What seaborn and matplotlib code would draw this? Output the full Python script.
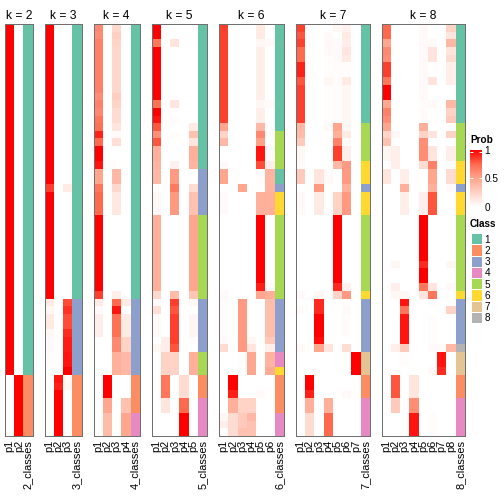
import numpy as np
import pandas as pd
import matplotlib
matplotlib.use("Agg")
import matplotlib.pyplot as plt
import seaborn as sns
from matplotlib.colors import LinearSegmentedColormap, ListedColormap

plt.rcParams['font.family'] = ['Liberation Sans', 'DejaVu Sans']

# membership probabilities, read off the picture as row blocks:
# (number of rows, [p1 .. pk], class)
k2_blocks = [
    (46, [1, 0], 1),
    (8, [0, 1], 2),
]
k3_blocks = [
    (21, [1, 0, 0], 1), (1, [0.85, 0, 0.12], 1), (14, [1, 0, 0], 1),
    (1, [0.12, 0, 0.82], 3), (1, [0.05, 0, 0.88], 3), (2, [0.12, 0, 0.82], 3),
    (1, [0.05, 0, 0.9], 3), (2, [0.03, 0, 0.93], 3), (2, [0.02, 0, 0.95], 3),
    (1, [0, 0, 1], 3),
    (1, [0, 0.95, 0.03], 2), (1, [0, 0.92, 0.05], 2), (6, [0, 1, 0], 2),
]
k4_blocks = [
    (1, [0.62, 0, 0.22, 0], 1), (1, [0.6, 0, 0.26, 0], 1), (1, [0.65, 0, 0.24, 0], 1),
    (6, [0.65, 0, 0.22, 0], 1), (1, [0.6, 0, 0.27, 0], 1), (1, [0.65, 0, 0.24, 0], 1),
    (1, [0.62, 0, 0.2, 0], 1), (1, [0.7, 0, 0.2, 0], 1), (1, [0.72, 0, 0.15, 0], 1),
    (1, [0.92, 0, 0.03, 0], 1), (1, [0.75, 0, 0.18, 0], 1), (2, [1, 0, 0, 0], 1),
    (1, [0.95, 0, 0.01, 0], 1), (2, [0.5, 0, 0.4, 0], 1), (1, [0.7, 0, 0.22, 0], 1),
    (3, [0.75, 0, 0.13, 0], 1), (10, [1, 0, 0, 0], 1), (1, [0.85, 0, 0.1, 0], 1),
    (1, [0.12, 0, 0.75, 0.12], 3), (1, [0.03, 0, 0.95, 0], 3), (3, [0.1, 0, 0.72, 0.12], 3),
    (2, [0, 0, 0.62, 0.25], 3), (3, [0, 0, 0.45, 0.4], 3),
    (3, [0, 1, 0, 0], 2), (2, [0, 0.5, 0, 0.35], 2),
    (3, [0, 0.38, 0, 0.5], 4),
]
k5_blocks = [
    (2, [1, 0, 0, 0, 0], 1), (1, [0.7, 0, 0.15, 0, 0], 1), (7, [1, 0, 0, 0, 0], 1),
    (1, [0.72, 0, 0.15, 0, 0], 1), (1, [1, 0, 0, 0, 0], 1), (1, [0.95, 0, 0.02, 0, 0], 1),
    (1, [0.8, 0, 0, 0, 0.12], 1), (1, [0.6, 0, 0.02, 0, 0.35], 1), (1, [0.8, 0, 0, 0, 0.15], 1),
    (2, [0.45, 0, 0, 0, 0.45], 1), (1, [0.42, 0, 0.08, 0, 0.42], 1),
    (2, [0.4, 0, 0.55, 0, 0], 3), (1, [0.02, 0, 0.68, 0, 0.2], 3), (3, [0.05, 0, 0.55, 0, 0.35], 3),
    (10, [0.45, 0, 0, 0, 0.5], 5), (1, [0.22, 0, 0.38, 0, 0.33], 5),
    (1, [0.03, 0, 0.85, 0, 0.05], 3), (1, [0.18, 0, 0.8, 0, 0], 3), (3, [0.03, 0, 0.85, 0, 0.06], 3),
    (1, [0, 0.1, 0.85, 0, 0.02], 3), (1, [0.05, 0.1, 0.8, 0, 0], 3),
    (3, [0, 0.25, 0.25, 0, 0.45], 5),
    (3, [0, 0.7, 0, 0.2, 0], 2),
    (2, [0, 0.15, 0, 0.75, 0], 4), (3, [0, 0, 0, 1, 0], 4),
]
k6_blocks = [
    (2, [0.85, 0, 0, 0, 0.12, 0], 1), (1, [0.85, 0, 0, 0, 0.05, 0.03], 1),
    (7, [0.85, 0, 0, 0, 0.1, 0], 1), (1, [0.85, 0, 0, 0, 0.05, 0.03], 1),
    (2, [0.85, 0, 0, 0, 0.1, 0], 1), (1, [0.5, 0, 0, 0, 0.4, 0], 1),
    (1, [0.25, 0, 0, 0, 0.62, 0.02], 5), (1, [0.4, 0, 0, 0, 0.52, 0], 5),
    (2, [0, 0, 0, 0, 0.95, 0.03], 5), (1, [0.03, 0, 0, 0, 0.82, 0.1], 5),
    (2, [0.5, 0, 0, 0, 0.02, 0.42], 1),
    (1, [0, 0, 0.5, 0, 0, 0.42], 3),
    (3, [0.03, 0, 0, 0, 0.45, 0.45], 6),
    (9, [0, 0, 0, 0, 1, 0], 5), (1, [0, 0, 0, 0, 0.93, 0.03], 5), (1, [0.03, 0, 0, 0, 0.5, 0.45], 5),
    (5, [0.02, 0, 0.55, 0, 0, 0.37], 3), (1, [0.03, 0, 0.55, 0.05, 0, 0.3], 3),
    (1, [0.2, 0, 0.55, 0.15, 0, 0.1], 3),
    (2, [0, 0, 0.02, 0.5, 0, 0.42], 4),
    (1, [0, 0, 0, 0.5, 0, 0.48], 6),
    (2, [0, 1, 0, 0, 0, 0], 2), (1, [0, 0.92, 0, 0, 0.03, 0], 2), (2, [0, 0.45, 0.25, 0.25, 0, 0], 2),
    (1, [0.05, 0.2, 0.3, 0.4, 0, 0], 4), (1, [0.1, 0.2, 0.3, 0.35, 0, 0], 4),
    (1, [0.02, 0.2, 0.35, 0.35, 0, 0], 4),
]
k7_blocks = [
    (1, [0.85, 0, 0, 0, 0.05, 0.08, 0], 1), (1, [0.8, 0, 0, 0.03, 0, 0.12, 0], 1),
    (1, [0.85, 0, 0, 0.03, 0.03, 0.1, 0], 1), (1, [0.75, 0, 0, 0.03, 0.03, 0.15, 0], 1),
    (1, [0.75, 0, 0, 0.02, 0.03, 0.12, 0], 1), (2, [0.92, 0, 0, 0.02, 0.02, 0.02, 0], 1),
    (1, [0.8, 0, 0, 0.05, 0.02, 0.12, 0], 1), (5, [0.85, 0, 0, 0.02, 0.02, 0.05, 0], 1),
    (1, [0.4, 0, 0, 0.03, 0.5, 0.05, 0], 5), (1, [0.38, 0, 0, 0, 0.45, 0.12, 0], 5),
    (1, [0.3, 0, 0, 0, 0.65, 0.03, 0], 5), (2, [0.05, 0, 0, 0, 0.85, 0.1, 0], 5),
    (1, [0.03, 0, 0, 0, 0.4, 0.55, 0], 6), (2, [0.3, 0, 0.15, 0.03, 0, 0.55, 0], 6),
    (1, [0, 0, 0.55, 0, 0, 0.45, 0], 3),
    (3, [0.03, 0, 0.12, 0, 0.25, 0.55, 0], 6),
    (9, [0, 0, 0, 0, 1, 0, 0], 5), (1, [0, 0, 0, 0, 0.9, 0.08, 0], 5),
    (1, [0.03, 0, 0.05, 0, 0.25, 0.55, 0], 6),
    (1, [0, 0, 0.9, 0, 0, 0.02, 0], 3), (1, [0.03, 0, 0.9, 0, 0, 0.03, 0], 3),
    (3, [0, 0, 1, 0, 0, 0.02, 0], 3), (1, [0, 0, 0.97, 0, 0, 0, 0], 3),
    (1, [0.03, 0, 0.5, 0.15, 0, 0.2, 0], 3),
    (3, [0, 0, 0, 0, 0, 0, 1], 7),
    (2, [0, 1, 0, 0, 0, 0, 0], 2), (1, [0, 0.92, 0, 0, 0, 0.03, 0], 2),
    (2, [0, 0.45, 0, 0.45, 0, 0, 0], 4), (3, [0, 0.2, 0, 0.75, 0, 0, 0], 4),
]
k8_blocks = [
    (1, [0.75, 0, 0, 0, 0.03, 0, 0, 0.25], 1), (1, [0.75, 0, 0, 0, 0.03, 0, 0, 0.15], 1),
    (1, [0.5, 0, 0, 0, 0.03, 0.03, 0, 0.4], 1), (1, [0.62, 0, 0, 0, 0.03, 0.15, 0, 0.15], 1),
    (1, [0.6, 0, 0, 0, 0.03, 0.15, 0, 0.2], 1), (2, [0.85, 0, 0, 0, 0.03, 0, 0, 0.1], 1),
    (1, [0.7, 0, 0, 0, 0.03, 0.15, 0, 0.1], 1), (2, [1, 0, 0, 0, 0.03, 0, 0, 0], 1),
    (1, [0.5, 0, 0, 0, 0.02, 0.03, 0, 0.4], 1), (1, [0.65, 0, 0, 0, 0.02, 0, 0, 0.25], 1),
    (1, [0.6, 0, 0, 0, 0.02, 0, 0, 0.3], 1),
    (1, [0.5, 0, 0, 0, 0.45, 0, 0, 0], 5), (1, [0.25, 0.05, 0, 0, 0.25, 0.15, 0, 0.25], 5),
    (1, [0.35, 0, 0, 0, 0.6, 0, 0, 0], 5), (2, [0.05, 0.1, 0, 0, 0.6, 0.15, 0, 0.1], 5),
    (1, [0, 0.1, 0, 0, 0.2, 0.65, 0, 0], 6), (2, [0.15, 0, 0.1, 0, 0, 0.5, 0, 0.2], 6),
    (1, [0, 0, 0.45, 0, 0, 0.45, 0, 0.03], 3),
    (3, [0, 0, 0.1, 0, 0.1, 0.8, 0, 0], 6),
    (6, [0, 0, 0, 0, 1, 0, 0, 0], 5), (1, [0, 0.05, 0, 0, 0.9, 0, 0, 0.05], 5),
    (2, [0, 0, 0, 0, 1, 0, 0, 0], 5), (1, [0, 0.1, 0, 0, 0.7, 0.15, 0, 0.03], 5),
    (1, [0, 0.05, 0.05, 0, 0.15, 0.7, 0, 0], 6),
    (1, [0, 0, 0.95, 0, 0, 0.02, 0, 0], 3), (1, [0, 0, 0.7, 0, 0, 0, 0, 0.25], 3),
    (4, [0, 0, 0.95, 0, 0, 0.02, 0, 0], 3),
    (1, [0, 0.1, 0.3, 0, 0, 0.03, 0.03, 0.4], 8),
    (2, [0, 0, 0.02, 0, 0, 0, 0.95, 0], 7), (1, [0, 0, 0, 0, 0, 0.03, 0.9, 0], 7),
    (3, [0, 0.8, 0, 0.15, 0, 0, 0, 0], 2),
    (2, [0, 0.3, 0, 0.6, 0, 0, 0, 0], 4), (3, [0, 0, 0, 0.95, 0, 0.02, 0, 0], 4),
]
all_blocks = {2: k2_blocks, 3: k3_blocks, 4: k4_blocks, 5: k5_blocks,
              6: k6_blocks, 7: k7_blocks, 8: k8_blocks}

class_colors = ['#66C2A5', '#FC8D62', '#8DA0CB', '#E78AC3',
                '#A6D854', '#FFD92F', '#E5C494', '#B3B3B3']
class_labels = ['1', '2', '3', '4', '5', '6', '7', '8']

prob_cmap = LinearSegmentedColormap.from_list(
    'prob', ['#FFFFFF', '#FFD3C6', '#FFA68F', '#FF6A4E', '#FF0000'])
class_cmap = ListedColormap(class_colors)


def expand(blocks):
    probs, cls = [], []
    for n, p, c in blocks:
        probs += [p] * n
        cls += [c] * n
    return np.array(probs, dtype=float), np.array(cls, dtype=float)


W, H = 504, 504
fig = plt.figure(figsize=(7, 7), dpi=72)

col_w, gap, x = 9.25, 11.9, 5.0
top, bottom = 24, 436

cax = fig.add_axes([470 / W, (H - 207) / H, 11.5 / W, 57 / H])
cbar = None

for i, k in enumerate(range(2, 9)):
    probs, cls = expand(all_blocks[k])
    width = (k + 1) * col_w
    ax = fig.add_axes([x / W, (H - bottom) / H, width / W, (bottom - top) / H])
    x += width + gap

    labels = [f"p{j}" for j in range(1, k + 1)] + [f"{k}_classes"]
    prob_part = np.column_stack([probs, np.full(len(cls), np.nan)])
    class_part = np.full_like(prob_part, np.nan)
    class_part[:, -1] = cls

    sns.heatmap(pd.DataFrame(prob_part, columns=labels), cmap=prob_cmap,
                vmin=0, vmax=1, ax=ax, xticklabels=1, yticklabels=False,
                cbar=(i == 0), cbar_ax=cax if i == 0 else None,
                cbar_kws={'ticks': [0, 0.5, 1]} if i == 0 else None)
    if i == 0:
        cbar = ax.collections[0].colorbar
    sns.heatmap(pd.DataFrame(class_part, columns=labels), cmap=class_cmap,
                vmin=0.5, vmax=8.5, ax=ax, xticklabels=1, yticklabels=False, cbar=False)

    ax.set_xticks(np.arange(k + 1) + 0.5)
    ax.set_xticklabels(labels, rotation=90, fontsize=11)
    ax.tick_params(axis='x', length=0, pad=4)
    ax.set_title(f"k = {k}", fontsize=12, pad=5)
    for s in ax.spines.values():
        s.set_visible(True)
        s.set_color('#707070')
        s.set_linewidth(1.0)

# Prob legend
cbar.outline.set_visible(False)
cbar.set_ticklabels(['0', '0.5', '1'])
cax.tick_params(length=0, labelsize=10, pad=3)
for yv in [0.5, 0.97]:
    cax.hlines(yv, 0, 0.25, color='white', lw=1)
    cax.hlines(yv, 0.75, 1, color='white', lw=1)
fig.text(470 / W, 1 - 140 / H, 'Prob', fontsize=10, fontweight='bold', va='center')

# Class legend
lax = fig.add_axes([470.5 / W, (H - 323) / H, 11 / W, 90 / H])
sns.heatmap(pd.DataFrame({'c': np.arange(1, 9)}, index=class_labels), cmap=class_cmap,
            vmin=0.5, vmax=8.5, ax=lax, cbar=False, xticklabels=False, yticklabels=1,
            linewidths=0.6, linecolor='white')
lax.yaxis.tick_right()
lax.set_yticks(np.arange(8) + 0.5)
lax.set_yticklabels(class_labels, rotation=0, fontsize=10)
lax.tick_params(length=0, pad=3)
lax.set_ylabel('')
fig.text(470 / W, 1 - 224 / H, 'Class', fontsize=10, fontweight='bold', va='center')

fig.savefig('out.png', dpi=72)
